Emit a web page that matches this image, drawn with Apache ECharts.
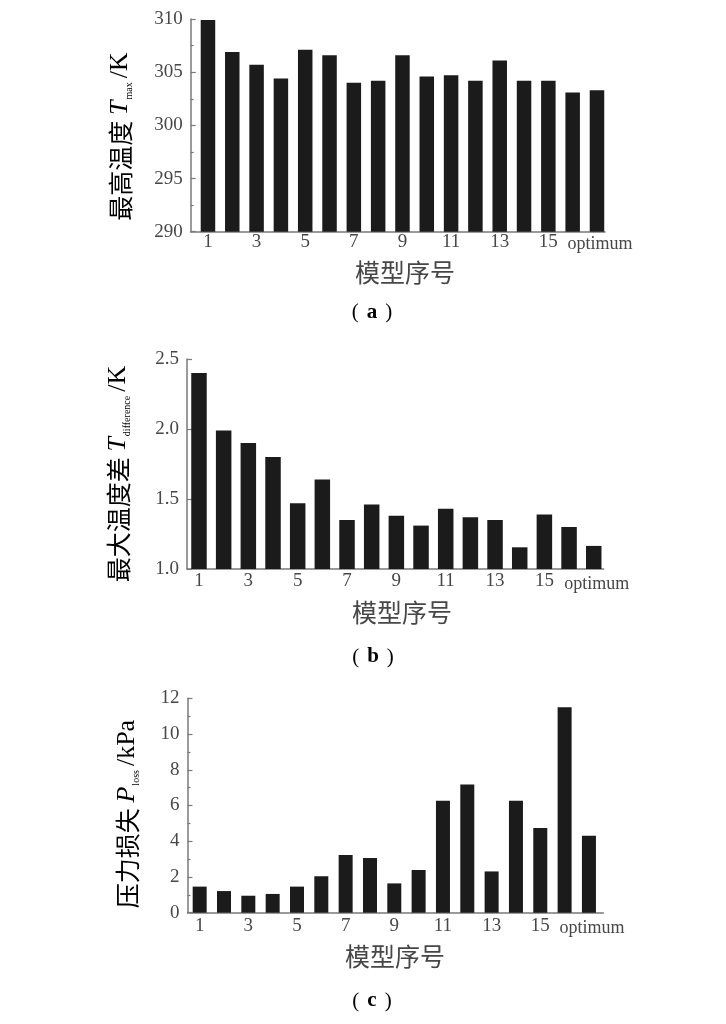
<!DOCTYPE html>
<html>
<head>
<meta charset="utf-8">
<script src="https://cdn.jsdelivr.net/npm/echarts@6/dist/echarts.min.js"></script>
<style>
html,body{margin:0;padding:0;background:#fff;}
#chart{width:726px;height:1024px;}
</style>
</head>
<body>
<div id="chart"></div>
<script>
// ---- data ----
const categories = ['1','2','3','4','5','6','7','8','9','10','11','12','13','14','15','16','optimum'];
const shownLabels = ['1','3','5','7','9','11','13','15','optimum'];
const tMax = [309.9, 306.9, 305.7, 304.4, 307.1, 306.6, 304.0, 304.2, 306.6, 304.6, 304.7, 304.2, 306.1, 304.2, 304.2, 303.1, 303.3];
const tDiff = [2.40, 1.99, 1.90, 1.80, 1.47, 1.64, 1.35, 1.46, 1.38, 1.31, 1.43, 1.37, 1.35, 1.155, 1.39, 1.30, 1.165];
const pLoss = [1.46, 1.21, 0.95, 1.05, 1.46, 2.04, 3.23, 3.06, 1.64, 2.39, 6.27, 7.18, 2.31, 6.27, 4.74, 11.5, 4.31];
const tMaxTicks = [290, 295, 300, 305, 310];
const tDiffTicks = [1.0, 1.5, 2.0, 2.5];
const pLossTicks = [0, 2, 4, 6, 8, 10, 12];

// ---- styles ----
const serif = '"Liberation Serif","Times New Roman",serif';
const cjk = '"Noto Sans CJK SC","Noto Sans",sans-serif';
const textCol = '#474747';
const axisCol = '#7a7a7a';
const barCol = '#1b1b1b';

const labelPos = shownLabels.map(l => categories.indexOf(l) + 1);
const toPairs = arr => arr.map((v, i) => [i + 1, v]);

const panels = [
  {grid:{left:190.7, top:19, width:414.3, height:212.7}, xmin:0.29, xmax:17.33, margin:1,
   ymin:290, ymax:310, interval:5, minor:true, fmt: v => String(v), data:tMax, bw:14.5},
  {grid:{left:187, top:359, width:416.6, height:210}, xmin:0.514, xmax:17.4, margin:3,
   ymin:1.0, ymax:2.5, interval:0.5, minor:false, fmt: v => v.toFixed(1), data:tDiff, bw:15.5},
  {grid:{left:187.5, top:698.3, width:415.8, height:214.4}, xmin:0.5, xmax:17.59, margin:4,
   ymin:0, ymax:12, interval:2, minor:true, fmt: v => String(v), data:pLoss, bw:14}
];

const grid = [], xAxis = [], yAxis = [], series = [];
panels.forEach((p, k) => {
  grid.push(Object.assign({containLabel:false}, p.grid));
  xAxis.push({
    type:'value', gridIndex:k, min:p.xmin, max:p.xmax,
    axisLine:{show:true, onZero:false, lineStyle:{color:axisCol, width:1.5}},
    axisTick:{show:false}, splitLine:{show:false},
    axisLabel:{
      show:true, customValues:labelPos, margin:p.margin,
      color:textCol, fontFamily:serif, fontSize:19,
      formatter: v => {
        const c = categories[Math.round(v) - 1];
        return c === 'optimum' ? '{o|' + c + '}' : c;
      },
      rich:{o:{fontFamily:serif, fontSize:18, color:textCol, padding:[3,0,0,6]}}
    }
  });
  yAxis.push({
    type:'value', gridIndex:k, min:p.ymin, max:p.ymax, interval:p.interval,
    axisLine:{show:true, lineStyle:{color:axisCol, width:1.5}},
    axisTick:{show:true, inside:true, length:5, lineStyle:{color:axisCol, width:1.2}},
    minorTick:{show:p.minor, splitNumber:2, length:3, lineStyle:{color:axisCol, width:1.2}},
    splitLine:{show:false},
    axisLabel:{color:textCol, fontFamily:serif, fontSize:19, margin:8, formatter:p.fmt}
  });
  series.push({
    type:'bar', xAxisIndex:k, yAxisIndex:k, data:toPairs(p.data),
    barWidth:p.bw, itemStyle:{color:barCol}, silent:true, animation:false
  });
});

const richTitle = {
  cn:{fontFamily:cjk, fontSize:25, color:textCol, lineHeight:28},
  it:{fontFamily:serif, fontStyle:'italic', fontSize:26, color:textCol, lineHeight:28},
  sub:{fontFamily:serif, fontSize:10, color:textCol, lineHeight:12, verticalAlign:'bottom', padding:[0,4,0,1]},
  n:{fontFamily:serif, fontSize:26, color:textCol, lineHeight:28}
};
function yTitle(x, y, txt){
  return {type:'text', x:x, y:y, rotation:Math.PI/2, silent:true,
    style:{text:txt, textAlign:'center', textVerticalAlign:'middle', rich:richTitle}};
}
function plainText(x, y, txt, size){
  return {type:'text', x:x, y:y, silent:true,
    style:{text:txt, fill:textCol, font:size + 'px ' + cjk, textAlign:'center', textVerticalAlign:'middle'}};
}
function panelLabel(x, y, letter){
  return {type:'text', x:x, y:y, silent:true,
    style:{text:'{p|(}{l|' + letter + '}{p|)}', textAlign:'center', textVerticalAlign:'middle',
      rich:{p:{fontFamily:serif, fontSize:21, color:textCol},
            l:{fontFamily:serif, fontWeight:'bold', fontSize:21, color:textCol, padding:[0,8,0,8]}}}};
}

const graphic = [
  yTitle(120.5, 136.5, '{cn|最高温度 }{it|T}{sub|max}{n|/K}'),
  yTitle(118, 474, '{cn|最大温度差 }{it|T}{sub|difference}{n|/K}'),
  yTitle(127, 814, '{cn|压力损失 }{it|P}{sub|loss}{n|/kPa}'),
  plainText(405, 272, '模型序号', 25),
  plainText(402, 612, '模型序号', 25),
  plainText(395, 956, '模型序号', 25),
  panelLabel(372, 312.5, 'a'),
  panelLabel(373, 657, 'b'),
  panelLabel(372, 1001, 'c')
];

const chart = echarts.init(document.getElementById('chart'), null, {renderer:'canvas'});
chart.setOption({animation:false, backgroundColor:'#fff', grid, xAxis, yAxis, series, graphic});
</script>
</body>
</html>
